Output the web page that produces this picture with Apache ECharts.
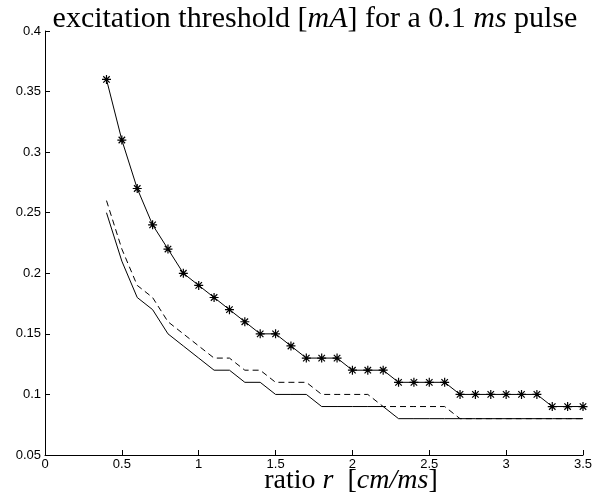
<!DOCTYPE html>
<html>
<head>
<meta charset="utf-8">
<script src="https://cdn.jsdelivr.net/npm/echarts@6/dist/echarts.min.js"></script>
<style>html,body{margin:0;padding:0;background:#fff;}#c{width:602px;height:501px;}</style>
</head>
<body>
<div id="c"></div>
<script>
var ratio = [0.4,0.5,0.6,0.7,0.8,0.9,1.0,1.1,1.2,1.3,1.4,1.5,1.6,1.7,1.8,1.9,2.0,2.1,2.2,2.3,2.4,2.5,2.6,2.7,2.8,2.9,3.0,3.1,3.2,3.3,3.4,3.5];
var starVals = [0.36,0.31,0.27,0.24,0.22,0.20,0.19,0.18,0.17,0.16,0.15,0.15,0.14,0.13,0.13,0.13,0.12,0.12,0.12,0.11,0.11,0.11,0.11,0.10,0.10,0.10,0.10,0.10,0.10,0.09,0.09,0.09];
var dashVals = [0.26,0.22,0.19,0.18,0.16,0.15,0.14,0.13,0.13,0.12,0.12,0.11,0.11,0.11,0.10,0.10,0.10,0.10,0.09,0.09,0.09,0.09,0.09,0.08,0.08,0.08,0.08,0.08,0.08,0.08,0.08,0.08];
var solidVals = [0.25,0.21,0.18,0.17,0.15,0.14,0.13,0.12,0.12,0.11,0.11,0.10,0.10,0.10,0.09,0.09,0.09,0.09,0.09,0.08,0.08,0.08,0.08,0.08,0.08,0.08,0.08,0.08,0.08,0.08,0.08,0.08];
var xTicks = ['0','0.5','1','1.5','2','2.5','3','3.5'];
var yTicks = ['0.05','0.1','0.15','0.2','0.25','0.3','0.35','0.4'];

function pairs(v){ return ratio.map(function(x,i){ return [x, v[i]]; }); }

var chart = echarts.init(document.getElementById('c'), null, {renderer:'canvas'});
var serif = 'Liberation Serif';
var sans = 'Liberation Sans';
function richSet(size){
  return {
    n: {fontFamily: serif, fontSize: size, fontWeight: 'normal', fill: '#000', color: '#000'},
    i: {fontFamily: serif, fontSize: size, fontWeight: 'normal', fontStyle: 'italic', fill: '#000', color: '#000'}
  };
}
chart.setOption({
  animation: false,
  backgroundColor: '#fff',
  graphic: [{
    type: 'text', x: 315, y: 19, silent: true,
    style: {
      text: '{n|excitation threshold [}{i|mA}{n|] for a 0.1 }{i|ms}{n| pulse}',
      rich: richSet(30), align: 'center', verticalAlign: 'middle', fill: '#000'
    }
  },{
    type: 'text', x: 351, y: 481, silent: true,
    style: {
      text: '{n|ratio }{i|r}{n|  [}{i|cm/ms}{n|]}',
      rich: richSet(28), align: 'center', verticalAlign: 'middle', fill: '#000'
    }
  }],
  grid: { left: 45, right: 19, top: 31, bottom: 46, containLabel: false },
  xAxis: {
    type: 'value', min: 0, max: 3.5, interval: 0.5,
    axisLine: { show: true, onZero: false, lineStyle: {color: '#000', width: 1} },
    axisTick: { show: true, inside: true, length: 5, lineStyle: {color: '#000'} },
    splitLine: { show: false },
    axisLabel: { color: '#000', fontFamily: sans, fontSize: 13, margin: 3,
      formatter: function(v){ var i = Math.round(v/0.5); return xTicks[i]; } }
  },
  yAxis: {
    type: 'value', min: 0.05, max: 0.4, interval: 0.05,
    axisLine: { show: true, onZero: false, lineStyle: {color: '#000', width: 1} },
    axisTick: { show: true, inside: true, length: 5, lineStyle: {color: '#000'} },
    splitLine: { show: false },
    axisLabel: { color: '#000', fontFamily: sans, fontSize: 13, margin: 4,
      formatter: function(v){ var i = Math.round(v/0.05) - 1; return yTicks[i]; } }
  },
  series: [{
    type: 'line', data: pairs(solidVals), showSymbol: false, symbol: 'none',
    lineStyle: {color: '#000', width: 1}
  },{
    type: 'line', data: pairs(dashVals), showSymbol: false, symbol: 'none',
    lineStyle: {color: '#000', width: 1, type: [6,4]}
  },{
    type: 'line', data: pairs(starVals),
    symbol: 'path://M0,-5L0,5M-5,0L5,0M-3.6,-3.6L3.6,3.6M-3.6,3.6L3.6,-3.6',
    symbolSize: 9,
    itemStyle: {color: '#000', borderColor: '#000', borderWidth: 1.2},
    lineStyle: {color: '#000', width: 1}
  }]
});
</script>
</body>
</html>
